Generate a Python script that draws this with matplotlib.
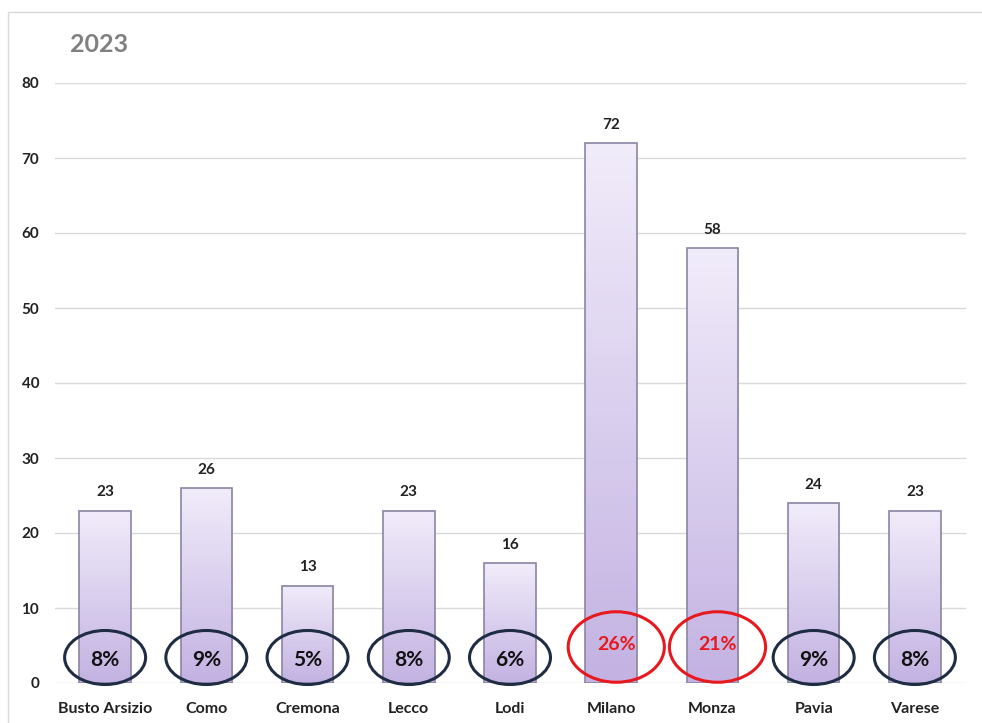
import numpy as np
import matplotlib
matplotlib.use("Agg")
import matplotlib.pyplot as plt
from matplotlib.patches import Ellipse, Rectangle
from matplotlib.colors import LinearSegmentedColormap

categories = ["Busto Arsizio", "Como", "Cremona", "Lecco", "Lodi",
              "Milano", "Monza", "Pavia", "Varese"]
values = [23, 26, 13, 23, 16, 72, 58, 24, 23]
shares = ["8%", "9%", "5%", "8%", "6%", "26%", "21%", "9%", "8%"]
highlight = [False, False, False, False, False, True, True, False, False]
title = "2023"
yticks = [0, 10, 20, 30, 40, 50, 60, 70, 80]

plt.rcParams['font.family'] = ['Lato', 'DejaVu Sans']

fig = plt.figure(figsize=(9.82, 7.23), dpi=100)
fig.patch.set_facecolor("white")
# outer frame
fig.patches.append(Rectangle((8/982, -0.01), 1.0, 1 - 12/723 + 0.01,
                             transform=fig.transFigure, fill=False,
                             edgecolor="#d9d9d9", linewidth=1.0))

ax = fig.add_axes([54.5/982, 1 - 683/723, (965.5 - 54.5)/982, (683 - 83)/723])
ax.set_xlim(-0.5, len(categories) - 0.5)
ax.set_ylim(0, 80)
for s in ax.spines.values():
    s.set_visible(False)
ax.set_yticks(yticks)
ax.grid(axis="y", color="#d9d9d9", linewidth=1.0)
ax.set_axisbelow(True)
ax.tick_params(axis="both", length=0)
ax.tick_params(axis="y", pad=11)
ax.tick_params(axis="x", pad=14)
ax.set_yticklabels([str(t) for t in yticks], fontsize=11, fontweight="bold", color="#222222")

x = np.arange(len(categories))
ax.set_xticks(x)
ax.set_xticklabels(categories, fontsize=11.5, fontweight="bold", color="#222222")

cmap = LinearSegmentedColormap.from_list("lav", ["#c3b2e2", "#f1ecfa"])
grad = np.linspace(0, 1, 256).reshape(-1, 1)
bars = ax.bar(x, values, width=0.51, facecolor="none", edgecolor="#8c84a3",
              linewidth=1.2, zorder=3)
for b, v in zip(bars, values):
    x0, w, h = b.get_x(), b.get_width(), b.get_height()
    ax.imshow(grad, extent=(x0, x0 + w, 0, h), origin="lower", cmap=cmap,
              aspect="auto", zorder=2, interpolation="bilinear")
    ax.text(x0 + w/2, h + 1.5, str(v), ha="center", va="bottom",
            fontsize=11, fontweight="bold", color="#222222", zorder=5)
ax.set_xlim(-0.5, len(categories) - 0.5)
ax.set_ylim(0, 80)

for xi, s, hl in zip(x, shares, highlight):
    if hl:
        e = Ellipse((xi + 0.05, 4.8), 0.95, 9.4, fill=False, edgecolor="#e8191e",
                    linewidth=2.2, zorder=6, clip_on=False)
        ax.add_patch(e)
        ax.text(xi + 0.05, 5.1, s, ha="center", va="center", fontsize=14,
                fontweight="bold", color="#e8191e", zorder=7)
    else:
        e = Ellipse((xi, 3.4), 0.8, 7.2, fill=False, edgecolor="#1f2d44",
                    linewidth=2.2, zorder=6, clip_on=False)
        ax.add_patch(e)
        ax.text(xi, 3.1, s, ha="center", va="center", fontsize=15,
                fontweight="bold", color="#111111", zorder=7)

fig.text(70/982, 1 - 45/723, title, ha="left", va="center", fontsize=18,
         fontweight="bold", color="#808080")

fig.savefig("out.png", dpi=100)
